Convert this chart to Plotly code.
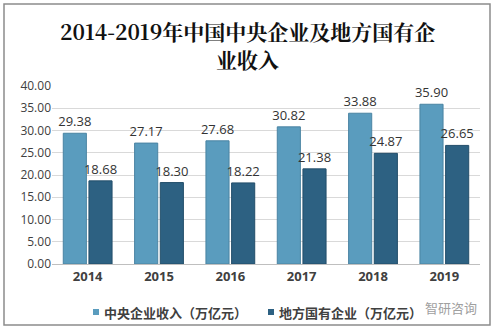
import plotly.graph_objects as go

years = ["2014", "2015", "2016", "2017", "2018", "2019"]
central = [29.38, 27.17, 27.68, 30.82, 33.88, 35.90]
local = [18.68, 18.30, 18.22, 21.38, 24.87, 26.65]
series_names = ["中央企业收入（万亿元）", "地方国有企业（万亿元）"]
series_colors = ["#5a9cbe", "#2d6182"]
y_ticks = [0, 5, 10, 15, 20, 25, 30, 35, 40]
title_lines = ["2014-2019年中国中央企业及地方国有企", "业收入"]

W, H = 494, 329
L, R, T, B = 52, 14, 86, 65
PW, PH = W - L - R, H - T - B


def px(x):
    return (x - L) / PW


def py(y):
    return (H - B - y) / PH


label_font = dict(family="Open Sans, Noto Sans CJK SC", size=13, color="#333333")

fig = go.Figure()
fig.add_trace(go.Bar(
    x=years, y=central, name=series_names[0],
    marker=dict(color=series_colors[0], line=dict(color="#4a84a3", width=1)),
    text=[f"{v:.2f}" for v in central], textposition="outside",
    textfont=label_font, cliponaxis=False, constraintext="none",
))
fig.add_trace(go.Bar(
    x=years, y=local, name=series_names[1],
    marker=dict(color=series_colors[1], line=dict(color="#234e6a", width=1)),
    text=[f"{v:.2f}" for v in local], textposition="outside",
    textfont=label_font, cliponaxis=False, constraintext="none",
))

title_font = dict(family="Noto Serif CJK SC, DejaVu Serif, Noto Sans CJK SC", size=21,
                  color="#111111", weight="bold")
legend_font = dict(family="Noto Sans CJK SC", size=13, color="#404040", weight="bold")

annotations = [
    dict(text=title_lines[0], xref="paper", yref="paper", x=px(247), y=py(31),
         xanchor="center", yanchor="middle", showarrow=False, font=title_font),
    dict(text=title_lines[1], xref="paper", yref="paper", x=px(247), y=py(59),
         xanchor="center", yanchor="middle", showarrow=False, font=title_font),
    dict(text="智研咨询", xref="paper", yref="paper", x=px(479), y=py(307),
         xanchor="right", yanchor="middle", showarrow=False,
         font=dict(family="Noto Sans CJK SC", size=13, color="#a0a0a0")),
]

shapes = [dict(type="rect", xref="paper", yref="paper",
               x0=px(4), x1=px(490), y0=py(325), y1=py(4),
               line=dict(color="#8c8c8c", width=1.5))]

# legend entries: small coloured square followed by the series name
for name, color, sq_x, txt_x in zip(series_names, series_colors, [93, 268], [102, 277]):
    shapes.append(dict(type="rect", xref="paper", yref="paper",
                       x0=px(sq_x), x1=px(sq_x + 6), y0=py(315), y1=py(309),
                       fillcolor=color, line=dict(width=0)))
    annotations.append(dict(
        text=name, xref="paper", yref="paper", x=px(txt_x), y=py(312),
        xanchor="left", yanchor="middle", showarrow=False, font=legend_font,
    ))

fig.update_layout(
    width=W, height=H,
    margin=dict(l=L, r=R, t=T, b=B, autoexpand=False),
    paper_bgcolor="white", plot_bgcolor="white",
    barmode="group", bargap=0.28, bargroupgap=0.1,
    showlegend=False,
    xaxis=dict(
        showline=True, linecolor="#bfbfbf", linewidth=1, ticks="",
        tickfont=dict(family="Open Sans, Noto Sans CJK SC", size=13, color="#404040", weight="bold"),
    ),
    yaxis=dict(
        range=[0, 40], tickvals=y_ticks, tickformat=".2f",
        showgrid=True, gridcolor="#d9d9d9", gridwidth=1, zeroline=False,
        tickfont=dict(family="Open Sans, Noto Sans CJK SC", size=12, color="#404040"),
    ),
    shapes=shapes,
    annotations=annotations,
)

fig.write_html("out.html")
